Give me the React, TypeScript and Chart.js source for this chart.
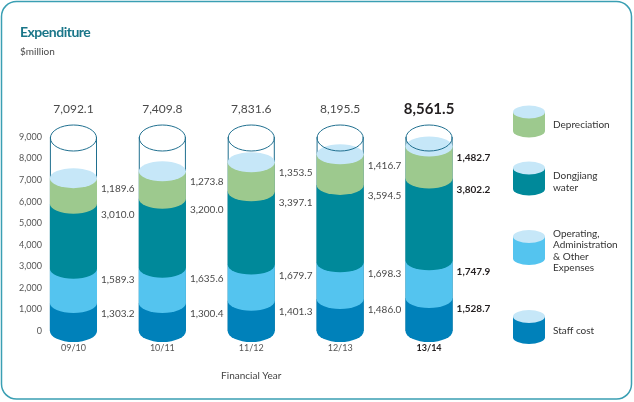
import React, { useEffect, useRef } from 'react';
import { Chart, registerables } from 'chart.js';

Chart.register(...registerables);

// ---- data ----
const years = ['09/10', '10/11', '11/12', '12/13', '13/14'];
const staffCost = [1303.2, 1300.4, 1401.3, 1486.0, 1528.7];
const operating = [1589.3, 1635.6, 1679.7, 1698.3, 1747.9];
const dongjiang = [3010.0, 3200.0, 3397.1, 3594.5, 3802.2];
const depreciation = [1189.6, 1273.8, 1353.5, 1416.7, 1482.7];
const seriesNames = ['Staff cost', 'Operating, Administration & Other Expenses', 'Dongjiang water', 'Depreciation'];
const legendLines = [['Staff cost'], ['Operating,', 'Administration', '& Other', 'Expenses'], ['Dongjiang', 'water'], ['Depreciation']];
const yMax = 9000;
const yStep = 1000;

// ---- styles ----
const COLORS = ['#0081ba', '#54c4ef', '#00899a', '#9dc98e'];
const CAP = '#c6e7f8';
const OUTLINE = '#1f6f8f';
const FONT = 'Lato, "Open Sans", sans-serif';

const fmt = (v: number) => v.toLocaleString('en-US', { minimumFractionDigits: 1, maximumFractionDigits: 1 });

function drawLegendCylinder(ctx: CanvasRenderingContext2D, cx: number, yTop: number, yBot: number, rx: number, ry: number, color: string) {
  ctx.fillStyle = color;
  ctx.beginPath();
  ctx.moveTo(cx - rx, yTop);
  ctx.lineTo(cx - rx, yBot);
  ctx.ellipse(cx, yBot, rx, ry, 0, Math.PI, 0, true);
  ctx.lineTo(cx + rx, yTop);
  ctx.closePath();
  ctx.fill();
  ctx.fillStyle = CAP;
  ctx.beginPath();
  ctx.ellipse(cx, yTop, rx, ry, 0, 0, Math.PI * 2);
  ctx.fill();
}

const cylinderPlugin = {
  id: 'cylinders',
  beforeDatasetsDraw(chart: any) {
    const ctx: CanvasRenderingContext2D = chart.ctx;
    const yScale = chart.scales.y;
    const n = chart.data.labels.length;
    const metas = chart.data.datasets.map((_: any, d: number) => chart.getDatasetMeta(d));
    const ry = 10;
    for (let i = 0; i < n; i++) {
      const el0 = metas[0].data[i];
      const cx = el0.x;
      const rx = el0.width / 2;
      const left = cx - rx;
      const right = cx + rx;
      const topY = yScale.getPixelForValue(yScale.max);
      const baseY = el0.base;
      ctx.save();
      // outline sides
      ctx.strokeStyle = OUTLINE;
      ctx.lineWidth = 1;
      ctx.beginPath();
      ctx.moveTo(left + 0.5, topY);
      ctx.lineTo(left + 0.5, baseY);
      ctx.moveTo(right - 0.5, topY);
      ctx.lineTo(right - 0.5, baseY);
      ctx.stroke();
      // segments
      metas.forEach((m: any, d: number) => {
        const el = m.data[i];
        const yb = el.base;
        const yt = el.y;
        ctx.fillStyle = COLORS[d];
        ctx.beginPath();
        ctx.moveTo(left, yt);
        ctx.lineTo(left, yb);
        ctx.ellipse(cx, yb, rx, d === 0 ? 11 : ry, 0, Math.PI, 0, true);
        ctx.lineTo(right, yt);
        ctx.closePath();
        ctx.fill();
      });
      // cap
      const topEl = metas[metas.length - 1].data[i];
      ctx.fillStyle = CAP;
      ctx.beginPath();
      ctx.ellipse(cx, topEl.y, rx, ry, 0, 0, Math.PI * 2);
      ctx.fill();
      // outline top ellipse
      ctx.strokeStyle = OUTLINE;
      ctx.lineWidth = 1;
      ctx.beginPath();
      ctx.ellipse(cx, topY + 1, rx - 0.5, 13, 0, 0, Math.PI * 2);
      ctx.stroke();

      // value labels
      const last = i === n - 1;
      ctx.textAlign = 'left';
      ctx.textBaseline = 'middle';
      metas.forEach((m: any, d: number) => {
        const el = m.data[i];
        const v = chart.data.datasets[d].data[i];
        ctx.fillStyle = last ? '#231f20' : '#4a4a4a';
        ctx.font = `${last ? 'bold ' : ''}10px ${FONT}`;
        ctx.fillText(fmt(v), right + 4, el.y + 11);
      });
      // totals
      const total = metas.reduce((s: number, _m: any, d: number) => s + chart.data.datasets[d].data[i], 0);
      ctx.textAlign = 'center';
      ctx.fillStyle = last ? '#231f20' : '#4a4a4a';
      ctx.font = last ? `bold 15px ${FONT}` : `12px ${FONT}`;
      ctx.fillText(fmt(total), cx, 109);
      ctx.restore();
    }
    return false;
  },
  afterDraw(chart: any) {
    const ctx: CanvasRenderingContext2D = chart.ctx;
    const yScale = chart.scales.y;
    ctx.save();
    // y tick labels (from the library's scale)
    ctx.textAlign = 'right';
    ctx.textBaseline = 'middle';
    ctx.fillStyle = '#555555';
    ctx.font = `9px ${FONT}`;
    yScale.ticks.forEach((t: any) => {
      ctx.fillText(Number(t.value).toLocaleString('en-US'), 42, yScale.getPixelForValue(t.value));
    });
    // border
    ctx.strokeStyle = '#3a9fb3';
    ctx.lineWidth = 1.5;
    ctx.beginPath();
    (ctx as any).roundRect(1.5, 1.5, 630, 397.5, 15);
    ctx.stroke();
    // title
    ctx.textAlign = 'left';
    ctx.textBaseline = 'alphabetic';
    ctx.fillStyle = '#1a7689';
    ctx.font = `bold 14px ${FONT}`;
    (ctx as any).letterSpacing = '-0.5px';
    ctx.fillText('Expenditure', 20, 37);
    (ctx as any).letterSpacing = '0px';
    ctx.fillStyle = '#4a4a4a';
    ctx.font = `10px ${FONT}`;
    ctx.fillText('$million', 20, 55);
    // legend
    const items = [
      { d: 3, top: 112, bot: 131, lines: [125] },
      { d: 2, top: 168, bot: 189, lines: [176, 188] },
      { d: 1, top: 236.5, bot: 258.5, lines: [233.5, 245, 256.5, 268] },
      { d: 0, top: 316.5, bot: 337.5, lines: [331] },
    ];
    items.forEach((it) => {
      drawLegendCylinder(ctx, 529, it.top, it.bot, 16, 6.5, COLORS[it.d]);
      ctx.fillStyle = '#333333';
      ctx.font = `10px ${FONT}`;
      ctx.textAlign = 'left';
      ctx.textBaseline = 'middle';
      legendLines[it.d].forEach((t, k) => ctx.fillText(t, 553, it.lines[k]));
    });
    ctx.restore();
  },
};

export default function App() {
  const ref = useRef<HTMLCanvasElement | null>(null);
  useEffect(() => {
    if (!ref.current) return;
    const series = [staffCost, operating, dongjiang, depreciation];
    const chart = new Chart(ref.current, {
      type: 'bar',
      data: {
        labels: years,
        datasets: series.map((s, d) => ({
          label: seriesNames[d],
          data: s,
          backgroundColor: COLORS[d],
          categoryPercentage: 1,
          barPercentage: 0.53,
        })),
      },
      options: {
        responsive: false,
        animation: false,
        devicePixelRatio: 1,
        layout: { padding: { left: 0, right: 160.5, top: 137, bottom: 0 } },
        plugins: { legend: { display: false }, tooltip: { enabled: false }, title: { display: false } },
        scales: {
          x: {
            stacked: true,
            grid: { display: false, drawTicks: false },
            border: { display: false },
            ticks: {
              padding: 12,
              color: (c: any) => (c.index === 4 ? '#231f20' : '#555555'),
              font: (c: any) => ({ family: FONT, size: 9, weight: c.index === 4 ? 'bold' : 'normal' }),
            },
            title: {
              display: true,
              text: 'Financial Year',
              color: '#444444',
              font: { family: FONT, size: 10 },
              padding: { top: 0, bottom: 20 },
            },
            afterFit: (s: any) => { s.height = 71; },
          },
          y: {
            stacked: true,
            min: 0,
            max: yMax,
            grid: { display: false, drawTicks: false },
            border: { display: false },
            ticks: { display: false, stepSize: yStep },
            afterFit: (s: any) => { s.width = 29; },
          },
        },
      },
      plugins: [cylinderPlugin],
    });
    return () => chart.destroy();
  }, []);
  return (
    <div style={{ position: 'absolute', left: 0, top: 0, width: 634, height: 402, background: '#fff' }}>
      <canvas ref={ref} width={634} height={402} style={{ width: 634, height: 402, display: 'block' }} />
    </div>
  );
}
